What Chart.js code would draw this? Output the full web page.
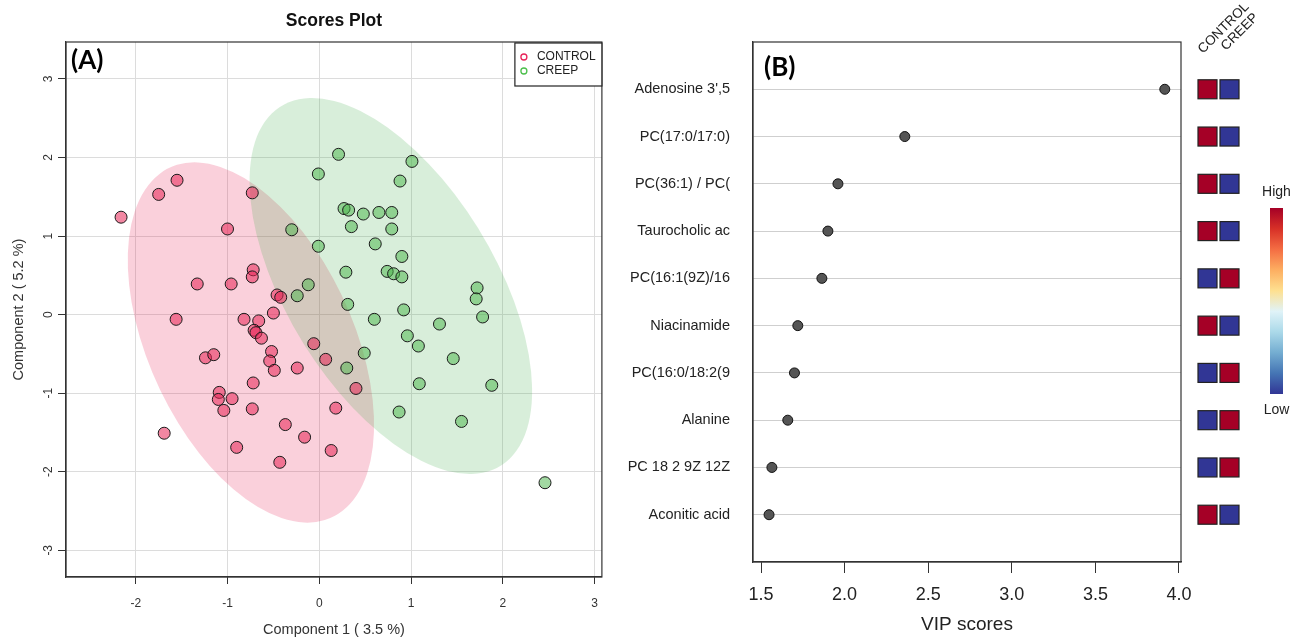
<!DOCTYPE html>
<html>
<head>
<meta charset="utf-8">
<title>Scores Plot and VIP scores</title>
<script src="https://cdn.jsdelivr.net/npm/chart.js@4.4.1/dist/chart.umd.min.js"></script>
<style>
    body { margin: 0; background: #fff; }
    #scores { position: absolute; left: 0; top: 0; }
    #vip { position: absolute; left: 610px; top: 0; }
</style>
</head>
<body>
<canvas id="scores" width="610" height="642"></canvas>
<canvas id="vip" width="694" height="642"></canvas>
<script>
// Scores plot (A): Component 1 / Component 2 for each sample
const controlX = [-2.16, -1.75, -1.55, -0.73, -1.00, -0.72, -0.73, -1.33, -0.96, -0.46,
                  -0.42, -1.56, -0.82, -0.66, -0.50, -0.71, -0.69, -0.63, -0.06, 0.07,
                  -1.24, -1.15, -0.52, -0.54, -0.49, -0.24, -0.72, -1.09, -1.10, -0.95,
                  -1.04, -0.73, -1.69, -0.90, -0.37, -0.16, -0.43, 0.40, 0.18, 0.13];
const controlY = [1.24, 1.53, 1.71, 1.55, 1.09, 0.57, 0.48, 0.39, 0.39, 0.25,
                  0.22, -0.06, -0.06, -0.08, 0.02, -0.20, -0.23, -0.30, -0.37, -0.57,
                  -0.55, -0.51, -0.47, -0.59, -0.71, -0.68, -0.87, -0.99, -1.08, -1.07,
                  -1.22, -1.20, -1.51, -1.69, -1.40, -1.56, -1.88, -0.94, -1.19, -1.73];
const creepX = [0.21, 1.01, -0.01, 0.88, 0.27, 0.32, 0.48, 0.65, 0.79, 0.35,
                0.79, -0.30, -0.01, 0.61, 0.90, 0.29, 0.74, 0.81, 0.90, -0.12,
                -0.24, 1.72, 1.71, 0.31, 0.92, 0.60, 1.78, 1.31, 0.96, 1.08,
                0.49, 1.46, 0.30, 1.09, 1.88, 0.87, 1.55, 2.46];
const creepY = [2.04, 1.95, 1.79, 1.70, 1.35, 1.33, 1.28, 1.30, 1.30, 1.12,
                1.09, 1.08, 0.87, 0.90, 0.74, 0.54, 0.55, 0.52, 0.48, 0.38,
                0.24, 0.34, 0.20, 0.13, 0.06, -0.06, -0.03, -0.12, -0.27, -0.40,
                -0.49, -0.56, -0.68, -0.88, -0.90, -1.24, -1.36, -2.14];
// confidence ellipses: centre x, centre y, semi-major, semi-minor, angle (deg)
const controlEllipse = [-0.745, -0.355, 2.40, 1.14, -70.4];
const creepEllipse = [0.78, 0.365, 2.59, 1.18, -64.6];

// VIP scores (B)
const vipFeatures = ["Adenosine 3',5", 'PC(17:0/17:0)', 'PC(36:1) / PC(', 'Taurocholic ac',
                     'PC(16:1(9Z)/16', 'Niacinamide', 'PC(16:0/18:2(9', 'Alanine',
                     'PC 18 2 9Z 12Z', 'Aconitic acid'];
const vipScores = [3.915, 2.36, 1.96, 1.90, 1.864, 1.72, 1.70, 1.66, 1.565, 1.548];
const controlLevel = ['High', 'High', 'High', 'High', 'Low', 'High', 'Low', 'Low', 'Low', 'High'];
const creepLevel = ['Low', 'Low', 'Low', 'Low', 'High', 'Low', 'High', 'High', 'High', 'Low'];

const FONT = "'Liberation Sans', Arial, sans-serif";
Chart.defaults.font.family = FONT;

function drawEllipse(chart, e, fill) {
    const { ctx, chartArea, scales: { x, y } } = chart;
    const sx = x.getPixelForValue(1) - x.getPixelForValue(0);
    const sy = y.getPixelForValue(1) - y.getPixelForValue(0);
    ctx.save();
    ctx.beginPath();
    ctx.rect(chartArea.left, chartArea.top, chartArea.width, chartArea.height);
    ctx.clip();
    ctx.translate(x.getPixelForValue(e[0]), y.getPixelForValue(e[1]));
    ctx.transform(sx, 0, 0, sy, 0, 0);
    ctx.rotate(e[4] * Math.PI / 180);
    ctx.beginPath();
    ctx.ellipse(0, 0, e[2], e[3], 0, 0, Math.PI * 2);
    ctx.fillStyle = fill;
    ctx.fill();
    ctx.restore();
}

const ellipsePlugin = {
    id: 'ellipses',
    beforeDatasetsDraw(chart) {
        drawEllipse(chart, controlEllipse, 'rgba(232,40,90,0.22)');
        drawEllipse(chart, creepEllipse, 'rgba(60,170,70,0.2)');
    }
};

const frameA = {
    id: 'frameA',
    afterDraw(chart) {
        const { ctx, chartArea: a } = chart;
        const cx = (a.left + a.right) / 2;
        ctx.save();
        ctx.strokeStyle = '#333';
        ctx.lineWidth = 1.2;
        ctx.strokeRect(a.left, a.top, a.width, a.height);

        ctx.fillStyle = '#111';
        ctx.textAlign = 'center';
        ctx.textBaseline = 'middle';
        ctx.font = 'bold 17.5px ' + FONT;
        ctx.fillText('Scores Plot', cx, 21);

        ctx.font = '14.5px ' + FONT;
        ctx.fillStyle = '#333';
        ctx.fillText('Component 1 ( 3.5 %)', cx, 630);
        ctx.save();
        ctx.translate(19, (a.top + a.bottom) / 2);
        ctx.rotate(-Math.PI / 2);
        ctx.fillText('Component 2 ( 5.2 %)', 0, 0);
        ctx.restore();

        ctx.fillStyle = '#000';
        ctx.textAlign = 'left';
        ctx.font = 'bold 26px Lato, ' + FONT;
        ctx.fillText('(A)', a.left + 5, 61);

        // legend
        const lx = a.right - 87, ly = a.top + 1;
        ctx.fillStyle = '#fff';
        ctx.fillRect(lx, ly, 87, 43);
        ctx.strokeStyle = '#222';
        ctx.lineWidth = 1.2;
        ctx.strokeRect(lx, ly, 87, 43);
        const items = [['CONTROL', '#e8245a'], ['CREEP', '#4cbf4c']];
        ctx.font = '12px ' + FONT;
        items.forEach((it, i) => {
            const y = ly + 14 + i * 14;
            ctx.beginPath();
            ctx.arc(lx + 9, y, 3, 0, Math.PI * 2);
            ctx.strokeStyle = it[1];
            ctx.lineWidth = 1.3;
            ctx.stroke();
            ctx.fillStyle = '#222';
            ctx.fillText(it[0], lx + 22, y);
        });
        ctx.restore();
    }
};

new Chart(document.getElementById('scores'), {
    type: 'scatter',
    data: {
        datasets: [
            {
                label: 'CONTROL',
                data: controlX.map((x, i) => ({ x: x, y: controlY[i] })),
                backgroundColor: 'rgba(232,36,86,0.55)',
                borderColor: '#1a1a1a',
                borderWidth: 1,
                pointRadius: 6,
                pointHoverRadius: 6
            },
            {
                label: 'CREEP',
                data: creepX.map((x, i) => ({ x: x, y: creepY[i] })),
                backgroundColor: 'rgba(70,180,70,0.5)',
                borderColor: '#1a1a1a',
                borderWidth: 1,
                pointRadius: 6,
                pointHoverRadius: 6
            }
        ]
    },
    options: {
        responsive: false,
        animation: false,
        layout: { padding: { top: 42, right: 8, left: 0, bottom: 0 } },
        plugins: { legend: { display: false }, tooltip: { enabled: false } },
        scales: {
            x: {
                type: 'linear',
                min: -2.76,
                max: 3.08,
                afterFit(s) { s.height = 65; },
                ticks: { stepSize: 1, includeBounds: false, color: '#333', font: { size: 12 }, padding: 12 },
                grid: { color: '#dcdcdc', tickColor: '#333', tickLength: 7 },
                border: { color: '#333', width: 1.2 }
            },
            y: {
                type: 'linear',
                min: -3.34,
                max: 3.47,
                afterFit(s) { s.width = 66; },
                ticks: {
                    stepSize: 1, includeBounds: false, autoSkip: false,
                    minRotation: 90, maxRotation: 90, crossAlign: 'center',
                    color: '#333', font: { size: 12 }, padding: 4
                },
                grid: { color: '#dcdcdc', tickColor: '#333', tickLength: 8 },
                border: { color: '#333', width: 1.2 }
            }
        }
    },
    plugins: [ellipsePlugin, frameA]
});

const levelColor = { High: '#a50026', Low: '#313695' };

const frameB = {
    id: 'frameB',
    afterDraw(chart) {
        const { ctx, chartArea: a, scales: { y } } = chart;
        ctx.save();
        ctx.strokeStyle = '#333';
        ctx.lineWidth = 1.2;
        ctx.strokeRect(a.left, a.top, a.width, a.height);

        ctx.fillStyle = '#000';
        ctx.textBaseline = 'middle';
        ctx.textAlign = 'left';
        ctx.font = 'bold 26px Lato, ' + FONT;
        ctx.fillText('(B)', a.left + 11, 68);

        ctx.font = '19px ' + FONT;
        ctx.fillStyle = '#222';
        ctx.textAlign = 'center';
        ctx.fillText('VIP scores', (a.left + a.right) / 2, 625);

        // group heat squares
        const x1 = a.right + 17, x2 = a.right + 39, sz = 19;
        vipFeatures.forEach((f, i) => {
            const py = y.getPixelForValue(i + 1);
            [[x1, controlLevel[i]], [x2, creepLevel[i]]].forEach(c => {
                ctx.fillStyle = levelColor[c[1]];
                ctx.fillRect(c[0], py - sz / 2, sz, sz);
                ctx.strokeStyle = '#222';
                ctx.lineWidth = 1.2;
                ctx.strokeRect(c[0], py - sz / 2, sz, sz);
            });
        });

        // rotated group names
        ctx.font = '13.5px ' + FONT;
        ctx.fillStyle = '#222';
        ctx.textAlign = 'left';
        ctx.textBaseline = 'alphabetic';
        [['CONTROL', x1 + 5, 54], ['CREEP', x2 + 6, 51]].forEach(t => {
            ctx.save();
            ctx.translate(t[1], t[2]);
            ctx.rotate(-Math.PI / 4);
            ctx.fillText(t[0], 0, 0);
            ctx.restore();
        });

        // colour key
        const bx = a.right + 89, top = 208, bottom = 394;
        const g = ctx.createLinearGradient(0, top, 0, bottom);
        const stops = ['#a50026', '#d73027', '#f46d43', '#fdae61', '#fee090',
                       '#e0f3f8', '#abd9e9', '#74add1', '#4575b4', '#313695'];
        stops.forEach((c, i) => g.addColorStop(i / (stops.length - 1), c));
        ctx.fillStyle = g;
        ctx.fillRect(bx, top, 13, bottom - top);
        ctx.fillStyle = '#222';
        ctx.textAlign = 'center';
        ctx.textBaseline = 'middle';
        ctx.font = '14px ' + FONT;
        ctx.fillText('High', bx + 6.5, 192);
        ctx.fillText('Low', bx + 6.5, 410);
        ctx.restore();
    }
};

new Chart(document.getElementById('vip'), {
    type: 'scatter',
    data: {
        datasets: [{
            label: 'VIP',
            data: vipScores.map((v, i) => ({ x: v, y: i + 1 })),
            backgroundColor: '#555',
            borderColor: '#111',
            borderWidth: 1,
            pointRadius: 5,
            pointHoverRadius: 5
        }]
    },
    options: {
        responsive: false,
        animation: false,
        layout: { padding: { top: 42, right: 123, left: 0, bottom: 0 } },
        plugins: { legend: { display: false }, tooltip: { enabled: false } },
        scales: {
            x: {
                type: 'linear',
                min: 1.452,
                max: 4.012,
                afterFit(s) { s.height = 80; },
                ticks: {
                    stepSize: 0.5, includeBounds: false,
                    callback: v => v.toFixed(1),
                    color: '#222', font: { size: 18 }, padding: 11
                },
                grid: { drawOnChartArea: false, tickColor: '#333', tickLength: 11 },
                border: { color: '#333', width: 1.2 }
            },
            y: {
                type: 'linear',
                min: 0,
                max: 11,
                reverse: true,
                afterFit(s) { s.width = 143; },
                afterBuildTicks(s) { s.ticks = vipFeatures.map((f, i) => ({ value: i + 1 })); },
                ticks: {
                    autoSkip: false,
                    callback: v => vipFeatures[v - 1],
                    color: '#222', font: { size: 14.5 }, padding: 23
                },
                grid: { color: '#cfcfcf', drawTicks: false },
                border: { color: '#333', width: 1.2 }
            }
        }
    },
    plugins: [frameB]
});
</script>
</body>
</html>
